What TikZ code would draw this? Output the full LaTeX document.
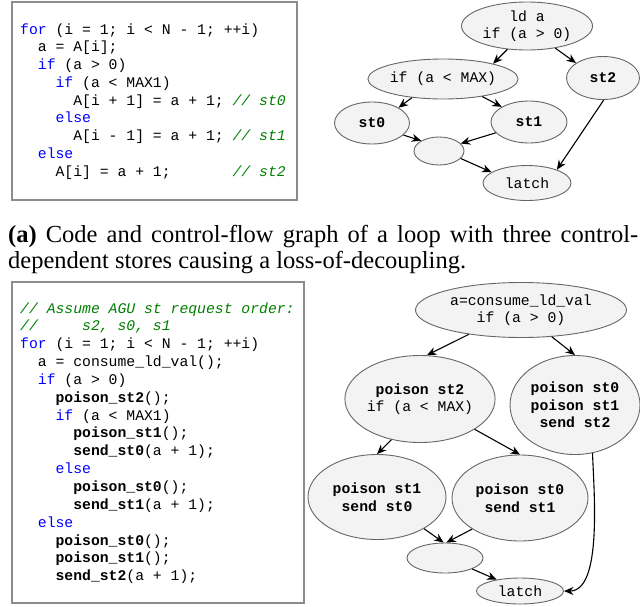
\documentclass[tikz,border=0pt]{standalone}
\usepackage{fontspec}
\setmainfont{Liberation Serif}
\setmonofont{Liberation Mono}
\usetikzlibrary{arrows.meta,shapes.geometric}

\definecolor{kwblue}{RGB}{0,0,255}
\definecolor{cmgreen}{RGB}{0,128,0}
\definecolor{boxgray}{RGB}{140,140,140}
\definecolor{nodegray}{RGB}{102,102,102}
\definecolor{nodefill}{RGB}{243,243,243}

\newcommand{\codefont}{\fontsize{14.75}{17.5}\selectfont\ttfamily}
\newcommand{\capfont}{\fontsize{24.5}{26}\selectfont}
\newcommand{\kw}[1]{{\color{kwblue}#1}}
\newcommand{\cm}[1]{{\color{cmgreen}\itshape #1}}
\newcommand{\ind}[1]{\hspace*{#1\dimexpr0.6em\relax}}

\tikzset{
    codebox/.style={draw=boxgray, line width=1.3pt, fill=white},
    codeline/.style={anchor=base west, inner sep=0pt, font=\codefont},
    cfgnode/.style={ellipse, draw=nodegray, fill=nodefill, line width=0.9pt,
        inner sep=0pt, align=center, font=\codefont},
    flow/.style={-{Stealth[length=9.5pt,width=8pt]}, line width=1.1pt},
    caption/.style={anchor=base west, inner sep=0pt, font=\capfont},
}

\begin{document}
\begin{tikzpicture}[x=1pt, y=-1pt]
    \useasboundingbox (0,0) rectangle (640,606);

    % (a) code
    \draw[codebox] (12,2) rectangle (297,200);
    \foreach \t [count=\i] in {
        {\kw{for} (i = 1; i < N - 1; ++i)},
        {\ind{2}a = A[i];},
        {\ind{2}\kw{if} (a > 0)},
        {\ind{4}\kw{if} (a < MAX1)},
        {\ind{6}A[i + 1] = a + 1; \cm{// st0}},
        {\ind{4}\kw{else}},
        {\ind{6}A[i - 1] = a + 1; \cm{// st1}},
        {\ind{2}\kw{else}},
        {\ind{4}A[i] = a + 1;\ind{7}\cm{// st2}}}
        \node[codeline] (codeA-\i) at (20, 16.25+17.75*\i) {\t};

    % (a) graph
    \node[cfgnode, minimum width=131pt, minimum height=48pt] (ld) at (527,26) {ld a\\if (a > 0)};
    \node[cfgnode, minimum width=150pt, minimum height=40pt] (ifmax) at (443,79) {if (a < MAX)};
    \node[cfgnode, minimum width=73pt, minimum height=43pt] (st2) at (603,78) {\textbf{st2}};
    \node[cfgnode, minimum width=75pt, minimum height=42pt] (st0) at (372,123) {\textbf{st0}};
    \node[cfgnode, minimum width=76pt, minimum height=42pt] (st1) at (529,122) {\textbf{st1}};
    \node[cfgnode, minimum width=50pt, minimum height=28pt] (join) at (439,151) {};
    \node[cfgnode, minimum width=88pt, minimum height=35pt] (latch) at (527,183) {latch};

    \draw[flow] (ld.230) -- (ifmax.17);
    \draw[flow] (ld.322) -- (st2.151);
    \draw[flow] (ifmax.211) -- (st0.30);
    \draw[flow] (ifmax.336) -- (st1.151);
    \draw[flow] (st0.339) -- (join.150);
    \draw[flow] (st1.198) -- (join.19);
    \draw[flow] (join.341) -- (latch.163);
    \draw[flow] (st2.272) -- (latch.24);

    % caption (a)
    \node[caption] (capA) at (8,242)
        {\hbox to 630pt{\textbf{(a)} Code and control-flow graph of a loop with three control-}};
    \node[caption] (capB) at (8,268)
        {dependent stores causing a loss-of-decoupling.};

    % (b) code
    \draw[codebox] (12,282) rectangle (304,603);
    \foreach \t [count=\i] in {
        {\cm{// Assume AGU st request order:}},
        {\cm{//\ind{5}s2, s0, s1}},
        {\kw{for} (i = 1; i < N - 1; ++i)},
        {\ind{2}a = consume\_ld\_val();},
        {\ind{2}\kw{if} (a > 0)},
        {\ind{4}\textbf{poison\_st2}();},
        {\ind{4}\kw{if} (a < MAX1)},
        {\ind{6}\textbf{poison\_st1}();},
        {\ind{6}\textbf{send\_st0}(a + 1);},
        {\ind{4}\kw{else}},
        {\ind{6}\textbf{poison\_st0}();},
        {\ind{6}\textbf{send\_st1}(a + 1);},
        {\ind{2}\kw{else}},
        {\ind{4}\textbf{poison\_st0}();},
        {\ind{4}\textbf{poison\_st1}();},
        {\ind{4}\textbf{send\_st2}(a + 1);}}
        \node[codeline] (codeB-\i) at (20, 295.15+17.85*\i) {\t};

    % (b) graph
    \node[cfgnode, minimum width=211pt, minimum height=55pt] (ldval) at (521,310) {a=consume\_ld\_val\\if (a > 0)};
    \node[cfgnode, minimum width=130pt, minimum height=87pt] (pst2) at (420,399) {\textbf{poison st2}\\if (a < MAX)};
    \node[cfgnode, minimum width=130pt, minimum height=99pt] (sst2) at (575,405) {\textbf{poison st0}\\\textbf{poison st1}\\\textbf{send st2}};
    \node[cfgnode, minimum width=138pt, minimum height=85pt] (sst0) at (377,497) {\textbf{poison st1}\\\textbf{send st0}};
    \node[cfgnode, minimum width=136pt, minimum height=86pt] (sst1) at (520,498) {\textbf{poison st0}\\\textbf{send st1}};
    \node[cfgnode, minimum width=76pt, minimum height=30pt] (joinb) at (445,558) {};
    \node[cfgnode, minimum width=87pt, minimum height=26pt] (latchb) at (520,591) {latch};

    \draw[flow] (ldval.205) -- (pst2.81);
    \draw[flow] (ldval.319) -- (sst2.90);
    \draw[flow] (pst2.235) -- (sst0.90);
    \draw[flow] (pst2.331) -- (sst1.90);
    \draw[flow] (sst0.326) -- (joinb.95);
    \draw[flow] (sst1.213) -- (joinb.85);
    \draw[flow] (joinb.338) -- (latchb.154);
    \draw[flow] (sst2.290) to[out=-88, in=0, looseness=0.7] (latchb.east);
\end{tikzpicture}
\end{document}
